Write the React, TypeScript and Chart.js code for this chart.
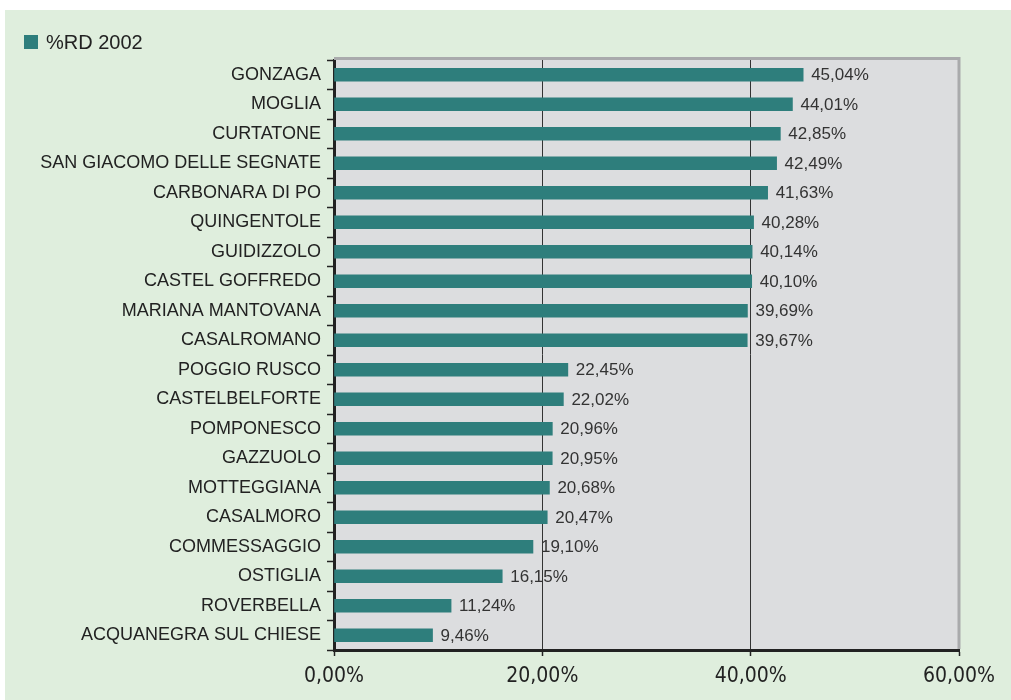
import React, { useEffect, useRef } from "react";
import { Chart, registerables } from "chart.js";

Chart.register(...registerables);

const categories = [
  "GONZAGA",
  "MOGLIA",
  "CURTATONE",
  "SAN GIACOMO DELLE SEGNATE",
  "CARBONARA DI PO",
  "QUINGENTOLE",
  "GUIDIZZOLO",
  "CASTEL GOFFREDO",
  "MARIANA MANTOVANA",
  "CASALROMANO",
  "POGGIO RUSCO",
  "CASTELBELFORTE",
  "POMPONESCO",
  "GAZZUOLO",
  "MOTTEGGIANA",
  "CASALMORO",
  "COMMESSAGGIO",
  "OSTIGLIA",
  "ROVERBELLA",
  "ACQUANEGRA SUL CHIESE",
];

const values = [
  45.04, 44.01, 42.85, 42.49, 41.63, 40.28, 40.14, 40.1, 39.69, 39.67, 22.45,
  22.02, 20.96, 20.95, 20.68, 20.47, 19.1, 16.15, 11.24, 9.46,
];

const seriesLabel = "%RD 2002";
const xMin = 0;
const xMax = 60;
const xStep = 20;

const BAR = "#2e7e7c";
const PLOT_BG = "#dcdddf";
const PAGE_BG = "#dfeedd";
const FRAME = "#a9aaac";
const DARK = "#222222";

const fmt = (v: number) => v.toFixed(2).replace(".", ",") + "%";

export default function App() {
  const ref = useRef<HTMLCanvasElement | null>(null);

  useEffect(() => {
    document.body.style.margin = "0";
    const canvas = ref.current;
    if (!canvas) return;

    const plotBg = {
      id: "plotBg",
      beforeDraw(chart: any) {
        const { ctx, chartArea: a } = chart;
        ctx.save();
        ctx.fillStyle = PLOT_BG;
        ctx.fillRect(a.left, a.top - 2, a.right - a.left, a.bottom - a.top + 2);
        ctx.restore();
      },
      afterDraw(chart: any) {
        const { ctx, chartArea: a } = chart;
        ctx.save();
        ctx.strokeStyle = FRAME;
        ctx.lineWidth = 3;
        ctx.beginPath();
        ctx.moveTo(a.left, a.top - 1.5);
        ctx.lineTo(a.right, a.top - 1.5);
        ctx.lineTo(a.right, a.bottom - 1);
        ctx.stroke();
        ctx.restore();
      },
    };

    const dataLabels = {
      id: "dataLabels",
      afterDatasetsDraw(chart: any) {
        const { ctx } = chart;
        const meta = chart.getDatasetMeta(0);
        const data = chart.data.datasets[0].data as number[];
        ctx.save();
        ctx.font = "17px 'Liberation Sans', Arial, sans-serif";
        ctx.fillStyle = "#333333";
        ctx.textAlign = "left";
        ctx.textBaseline = "middle";
        meta.data.forEach((bar: any, i: number) => {
          ctx.fillText(fmt(data[i]), bar.x + 8, bar.y + 1);
        });
        ctx.restore();
      },
    };

    const chart = new Chart(canvas, {
      type: "bar",
      data: {
        labels: categories,
        datasets: [
          {
            label: seriesLabel,
            data: values,
            backgroundColor: BAR,
            borderWidth: 0,
            barThickness: 13,
          },
        ],
      },
      options: {
        indexAxis: "y",
        responsive: false,
        animation: false,
        layout: { padding: { top: 60, right: 52, left: 0, bottom: 0 } },
        plugins: {
          legend: { display: false },
          tooltip: { enabled: false },
        },
        scales: {
          x: {
            type: "linear",
            min: xMin,
            max: xMax,
            ticks: {
              stepSize: xStep,
              callback: (v: any) => fmt(Number(v)),
              font: { family: "'DejaVu Sans Condensed', 'Liberation Sans Narrow', sans-serif", size: 21 },
              color: DARK,
              padding: 8,
              maxRotation: 0,
            },
            grid: {
              color: (c: any) =>
                c.tick && c.tick.value > xMin && c.tick.value < xMax ? "#333333" : "rgba(0,0,0,0)",
              lineWidth: 1,
              drawTicks: true,
              tickLength: 6,
              tickColor: DARK,
              tickWidth: 1.5,
            },
            border: { color: DARK, width: 3 },
            afterFit: (s: any) => {
              s.height = 50;
            },
          },
          y: {
            type: "category",
            ticks: {
              font: { family: "'Liberation Sans', Arial, sans-serif", size: 18 },
              color: DARK,
              padding: 6,
              autoSkip: false,
            },
            grid: {
              offset: true,
              drawOnChartArea: false,
              drawTicks: true,
              tickLength: 7,
              tickColor: DARK,
              tickWidth: 1.5,
            },
            border: { color: DARK, width: 3 },
            afterFit: (s: any) => {
              s.width = 334;
            },
          },
        },
      },
      plugins: [plotBg, dataLabels],
    } as any);

    return () => chart.destroy();
  }, []);

  return (
    <div style={{ position: "relative", width: 1011, height: 700, background: "#ffffff" }}>
      <div
        style={{
          position: "absolute",
          left: 5,
          top: 10,
          right: 0,
          bottom: 0,
          background: PAGE_BG,
        }}
      />
      <canvas
        ref={ref}
        width={1011}
        height={700}
        style={{ position: "absolute", left: 0, top: 0 }}
      />
      <div
        style={{
          position: "absolute",
          left: 24,
          top: 30,
          height: 24,
          display: "flex",
          alignItems: "center",
          fontFamily: "'Liberation Sans', Arial, sans-serif",
          fontSize: 20,
          color: DARK,
        }}
      >
        <span
          style={{
            display: "inline-block",
            width: 14,
            height: 14,
            background: BAR,
            marginRight: 8,
          }}
        />
        <span>{seriesLabel}</span>
      </div>
    </div>
  );
}
